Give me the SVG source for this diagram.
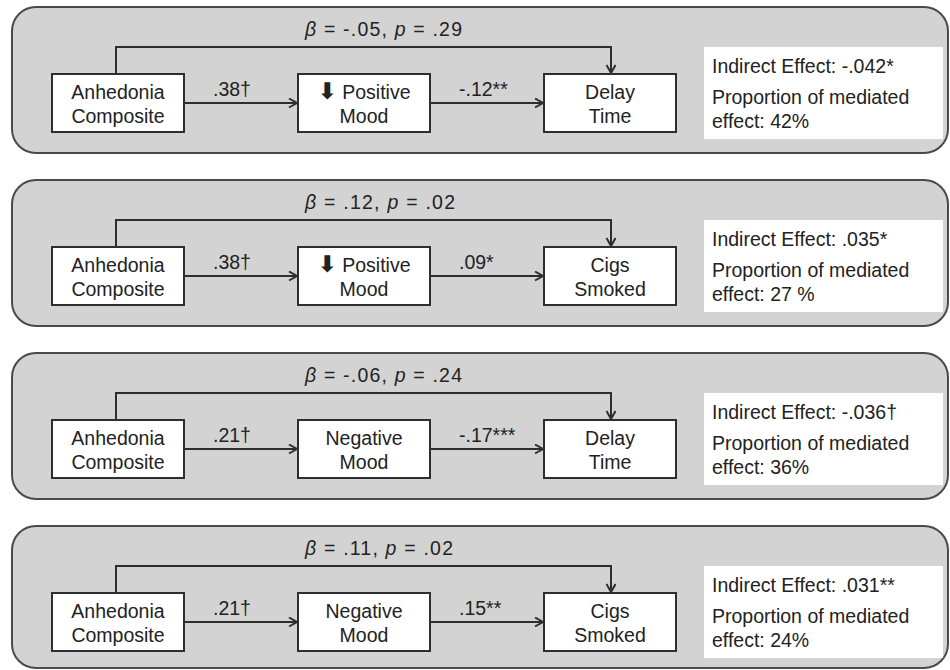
<svg xmlns="http://www.w3.org/2000/svg" width="950" height="670" viewBox="0 0 950 670">
<defs>
<style>
.panel{fill:#d3d3d3;stroke:#4a4a4a;stroke-width:2}
.box{fill:#ffffff;stroke:#2e2e2e;stroke-width:2}
.info{fill:#ffffff;stroke:none}
text{font-family:"Liberation Sans",Arial,sans-serif;font-size:19.5px;fill:#222}
.c{text-anchor:middle}
.edge{fill:none;stroke:#2e2e2e;stroke-width:2}
.it{font-style:italic}
.arr{font-family:"DejaVu Sans",sans-serif;font-weight:bold;font-size:23px}
</style>
<marker id="ah" markerUnits="userSpaceOnUse" markerWidth="12" markerHeight="12" refX="9" refY="5" orient="auto">
<path d="M1,0.5 L9,5 L1,9.5" fill="none" stroke="#2e2e2e" stroke-width="2"/>
</marker>
</defs>

<g id="panels">
<rect class="panel" x="12" y="7" width="936" height="146" rx="24"/>
<rect class="panel" x="12" y="180" width="936" height="146" rx="24"/>
<rect class="panel" x="12" y="353" width="936" height="146" rx="24"/>
<rect class="panel" x="12" y="526" width="936" height="142" rx="24"/>
</g>

<g id="connectors">
<path class="edge" d="M116,74 V47 H611 V73" marker-end="url(#ah)"/>
<path class="edge" d="M184,103 H297" marker-end="url(#ah)"/>
<path class="edge" d="M430,103 H543" marker-end="url(#ah)"/>
<path class="edge" d="M116,247 V220 H611 V246" marker-end="url(#ah)"/>
<path class="edge" d="M184,276 H297" marker-end="url(#ah)"/>
<path class="edge" d="M430,276 H543" marker-end="url(#ah)"/>
<path class="edge" d="M116,420 V393 H611 V419" marker-end="url(#ah)"/>
<path class="edge" d="M184,449 H297" marker-end="url(#ah)"/>
<path class="edge" d="M430,449 H543" marker-end="url(#ah)"/>
<path class="edge" d="M116,593 V566 H611 V592" marker-end="url(#ah)"/>
<path class="edge" d="M184,622 H297" marker-end="url(#ah)"/>
<path class="edge" d="M430,622 H543" marker-end="url(#ah)"/>
</g>

<g id="edge-labels">
<text x="305" y="36" textLength="157" lengthAdjust="spacing"><tspan class="it">β</tspan> = -.05, <tspan class="it">p</tspan> = .29</text>
<text x="213" y="96">.38†</text>
<text x="459" y="96">-.12**</text>
<text x="305" y="209" textLength="150" lengthAdjust="spacing"><tspan class="it">β</tspan> = .12, <tspan class="it">p</tspan> = .02</text>
<text x="213" y="269">.38†</text>
<text x="459" y="269">.09*</text>
<text x="305" y="382" textLength="157" lengthAdjust="spacing"><tspan class="it">β</tspan> = -.06, <tspan class="it">p</tspan> = .24</text>
<text x="213" y="442">.21†</text>
<text x="459" y="442">-.17***</text>
<text x="305" y="555" textLength="148" lengthAdjust="spacing"><tspan class="it">β</tspan> = .11, <tspan class="it">p</tspan> = .02</text>
<text x="213" y="615">.21†</text>
<text x="459" y="615">.15**</text>
</g>

<g id="p1-anhedonia"><rect class="box" x="52" y="74" width="132" height="58"/><text class="c" x="118" y="99">Anhedonia</text><text class="c" x="118" y="123">Composite</text></g>
<g id="p1-mood"><rect class="box" x="298" y="74" width="132" height="58"/><text class="c" x="364" y="99"><tspan class="arr">⬇</tspan> Positive</text><text class="c" x="364" y="123">Mood</text></g>
<g id="p1-outcome"><rect class="box" x="544" y="74" width="132" height="58"/><text class="c" x="610" y="99">Delay</text><text class="c" x="610" y="123">Time</text></g>
<g id="p1-info"><rect class="info" x="704" y="47" width="239" height="92"/><text x="712" y="73">Indirect Effect: -.042*</text><text x="712" y="104">Proportion of mediated</text><text x="712" y="127.5">effect: 42%</text></g>

<g id="p2-anhedonia"><rect class="box" x="52" y="247" width="132" height="58"/><text class="c" x="118" y="272">Anhedonia</text><text class="c" x="118" y="296">Composite</text></g>
<g id="p2-mood"><rect class="box" x="298" y="247" width="132" height="58"/><text class="c" x="364" y="272"><tspan class="arr">⬇</tspan> Positive</text><text class="c" x="364" y="296">Mood</text></g>
<g id="p2-outcome"><rect class="box" x="544" y="247" width="132" height="58"/><text class="c" x="610" y="272">Cigs</text><text class="c" x="610" y="296">Smoked</text></g>
<g id="p2-info"><rect class="info" x="704" y="220" width="239" height="92"/><text x="712" y="246">Indirect Effect: .035*</text><text x="712" y="277">Proportion of mediated</text><text x="712" y="300.5">effect: 27 %</text></g>

<g id="p3-anhedonia"><rect class="box" x="52" y="420" width="132" height="58"/><text class="c" x="118" y="445">Anhedonia</text><text class="c" x="118" y="469">Composite</text></g>
<g id="p3-mood"><rect class="box" x="298" y="420" width="132" height="58"/><text class="c" x="364" y="445">Negative</text><text class="c" x="364" y="469">Mood</text></g>
<g id="p3-outcome"><rect class="box" x="544" y="420" width="132" height="58"/><text class="c" x="610" y="445">Delay</text><text class="c" x="610" y="469">Time</text></g>
<g id="p3-info"><rect class="info" x="704" y="393" width="239" height="92"/><text x="712" y="419">Indirect Effect: -.036†</text><text x="712" y="450">Proportion of mediated</text><text x="712" y="473.5">effect: 36%</text></g>

<g id="p4-anhedonia"><rect class="box" x="52" y="593" width="132" height="58"/><text class="c" x="118" y="618">Anhedonia</text><text class="c" x="118" y="642">Composite</text></g>
<g id="p4-mood"><rect class="box" x="298" y="593" width="132" height="58"/><text class="c" x="364" y="618">Negative</text><text class="c" x="364" y="642">Mood</text></g>
<g id="p4-outcome"><rect class="box" x="544" y="593" width="132" height="58"/><text class="c" x="610" y="618">Cigs</text><text class="c" x="610" y="642">Smoked</text></g>
<g id="p4-info"><rect class="info" x="704" y="566" width="239" height="92"/><text x="712" y="592">Indirect Effect: .031**</text><text x="712" y="623">Proportion of mediated</text><text x="712" y="646.5">effect: 24%</text></g>
</svg>
